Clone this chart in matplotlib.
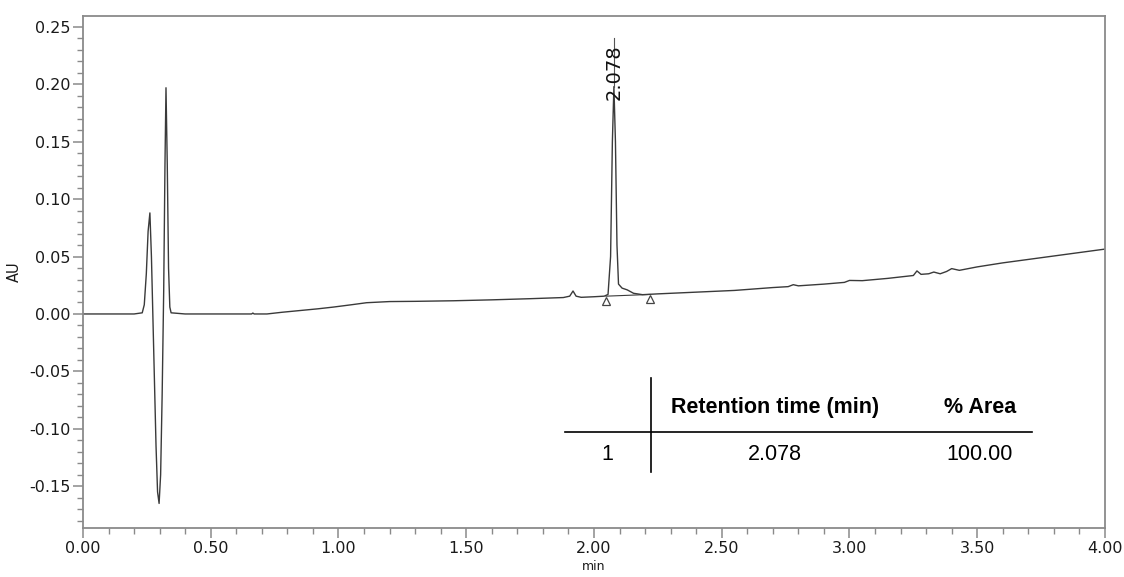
import matplotlib
matplotlib.use("Agg")
import matplotlib.pyplot as plt
from matplotlib.ticker import MultipleLocator, FormatStrFormatter

# Chromatogram trace (time in min, absorbance in AU)
time_min = [0.00, 0.20, 0.232, 0.240, 0.248, 0.255, 0.262, 0.268, 0.274, 0.280,
            0.286, 0.292, 0.298, 0.304, 0.310, 0.316, 0.321, 0.325, 0.330, 0.335,
            0.340, 0.345, 0.40, 0.60,
            0.66, 0.665, 0.67, 0.72, 0.78, 0.85, 0.92, 0.98, 1.05, 1.11,
            1.20, 1.30, 1.45, 1.60, 1.75, 1.88, 1.905, 1.918, 1.93, 1.95,
            2.00, 2.04, 2.055, 2.065, 2.072, 2.078, 2.084, 2.090, 2.096, 2.11,
            2.13, 2.155, 2.19, 2.25, 2.40, 2.55, 2.70, 2.76, 2.78, 2.80,
            2.90, 2.98, 3.00, 3.05, 3.15, 3.25, 3.264, 3.28, 3.31, 3.33,
            3.355, 3.38, 3.40, 3.43, 3.50, 3.60, 3.70, 3.80, 3.90, 4.00]
absorbance = [0.0, 0.0, 0.001, 0.008, 0.035, 0.072, 0.088, 0.05, -0.005, -0.06,
              -0.115, -0.155, -0.165, -0.14, -0.07, 0.02, 0.13, 0.197, 0.13, 0.04,
              0.006, 0.001, 0.0, 0.0,
              0.0, 0.0008, 0.0, 0.0, 0.0015, 0.003, 0.0045, 0.006, 0.008, 0.0098,
              0.0108, 0.011, 0.0115, 0.0123, 0.0133, 0.0143, 0.0155, 0.020, 0.0155, 0.0145,
              0.0150, 0.0155, 0.017, 0.05, 0.15, 0.198, 0.15, 0.06, 0.026, 0.0225,
              0.021, 0.018, 0.0168, 0.0175, 0.019, 0.0205, 0.023, 0.0238, 0.0255, 0.0245,
              0.026, 0.0275, 0.0292, 0.029, 0.031, 0.0335, 0.0375, 0.0345, 0.035, 0.0365,
              0.035, 0.037, 0.0395, 0.038, 0.041, 0.0445, 0.0475, 0.0505, 0.0535, 0.0565]

# Integration baseline of the labelled peak
baseline_t = [2.047, 2.219]
baseline_au = [0.0155, 0.0170]
marker_au = [0.0115, 0.0130]

peak_label = "2.078"
peak_t = 2.078
peak_top = 0.198
label_top = 0.240

# Results table
table_header = ["Retention time (min)", "% Area"]
table_row_id = "1"
table_row = ["2.078", "100.00"]

fig = plt.figure(figsize=(11.24, 5.77), dpi=100)
ax = fig.add_axes([0.0738, 0.0849, 0.9093, 0.8874])

line_col = "#3a3a3a"
ax.plot(time_min, absorbance, color=line_col, lw=1.0)
ax.plot(baseline_t, baseline_au, color=line_col, lw=0.8)
ax.plot(baseline_t, marker_au, ls="none", marker="^", ms=6, mfc="white",
        mec="#444444", mew=0.9)
ax.plot([peak_t, peak_t], [peak_top, label_top], color="#555555", lw=0.8)
ax.text(peak_t + 0.002, 0.186, peak_label, rotation=90, ha="center", va="bottom",
        fontsize=14, color="#111111")

ax.set_xlim(0, 4.0)
ax.set_ylim(-0.1864, 0.2595)
ax.xaxis.set_major_locator(MultipleLocator(0.5))
ax.xaxis.set_minor_locator(MultipleLocator(0.1))
ax.yaxis.set_major_locator(MultipleLocator(0.05))
ax.yaxis.set_minor_locator(MultipleLocator(0.01))
ax.xaxis.set_major_formatter(FormatStrFormatter("%.2f"))
ax.yaxis.set_major_formatter(FormatStrFormatter("%.2f"))

spine_col = "#8a8a8a"
for s in ax.spines.values():
    s.set_color(spine_col)
    s.set_linewidth(1.3)
ax.tick_params(which="major", direction="out", length=7, width=1.1,
               color=spine_col, labelsize=11.5, labelcolor="#1a1a1a", pad=2)
ax.tick_params(which="minor", direction="out", length=4, width=1.0, color=spine_col)

ax.set_ylabel("AU", fontsize=10.5, color="#1a1a1a", labelpad=5)
ax.set_xlabel("min", fontsize=9, color="#1a1a1a", labelpad=3)

# Table drawn in data coordinates
tfont = dict(family="Liberation Sans", fontsize=15.5, color="black")
ax.plot([2.223, 2.223], [-0.0556, -0.1372], color="black", lw=1.2)
ax.plot([1.886, 3.714], [-0.1024, -0.1024], color="black", lw=1.2)
ax.text(2.708, -0.0816, table_header[0], ha="center", va="center", fontweight="bold", **tfont)
ax.text(3.511, -0.0816, table_header[1], ha="center", va="center", fontweight="bold", **tfont)
ax.text(2.051, -0.1224, table_row_id, ha="center", va="center", **tfont)
ax.text(2.708, -0.1224, table_row[0], ha="center", va="center", **tfont)
ax.text(3.511, -0.1224, table_row[1], ha="center", va="center", **tfont)

fig.savefig("out.png", dpi=100)
